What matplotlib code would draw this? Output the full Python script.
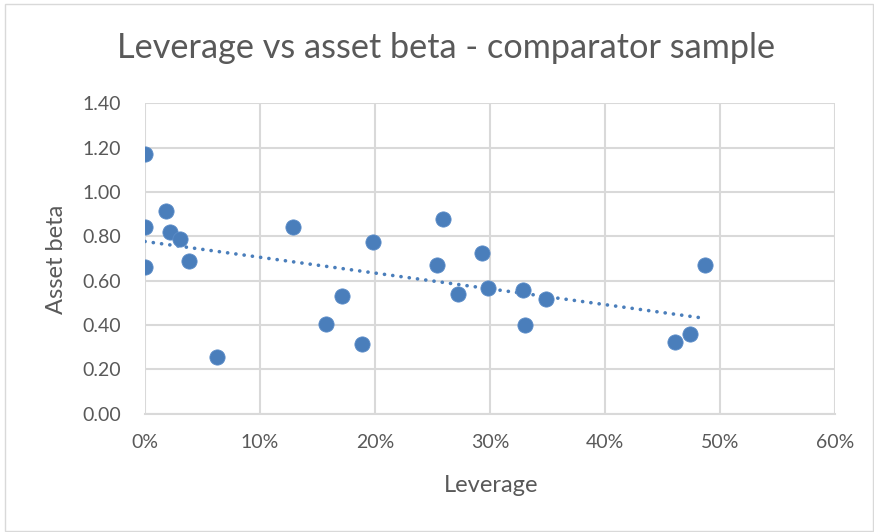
import numpy as np
import matplotlib
matplotlib.use('Agg')
import matplotlib.pyplot as plt
from matplotlib.ticker import FuncFormatter
from matplotlib.patches import Rectangle

# Data (leverage as fraction, asset beta)
leverage = [0.000, 0.000, 0.000, 0.018, 0.022, 0.030, 0.038, 0.063,
            0.129, 0.157, 0.171, 0.189, 0.198, 0.254, 0.259, 0.272, 0.293,
            0.298, 0.329, 0.330, 0.349, 0.461, 0.474, 0.487]
asset_beta = [1.17, 0.84, 0.66, 0.915, 0.82, 0.79, 0.69, 0.254,
              0.84, 0.403, 0.532, 0.313, 0.773, 0.669, 0.88, 0.539, 0.725,
              0.568, 0.558, 0.399, 0.516, 0.325, 0.358, 0.672]
x_ticks = [0, 0.1, 0.2, 0.3, 0.4, 0.5, 0.6]
y_ticks = [0, 0.2, 0.4, 0.6, 0.8, 1.0, 1.2, 1.4]

blue = '#4A7EBB'
grey_txt = '#595959'
grid_col = '#D9D9D9'
W, H = 874, 532

plt.rcParams['font.family'] = ['Lato', 'DejaVu Sans']
plt.rcParams['lines.scale_dashes'] = False

fig = plt.figure(figsize=(W / 100, H / 100), dpi=100)
ax = fig.add_axes([145 / W, 1 - 413.6 / H, 690 / W, 310.2 / H])

ax.scatter(leverage, asset_beta, s=120, color=blue, edgecolor='#5B8CC8',
           linewidth=0.6, zorder=3)

# linear trendline
x = np.array(leverage)
y = np.array(asset_beta)
m, b = np.polyfit(x, y, 1)
xs = np.array([x.min(), x.max()])
ax.plot(xs, m * xs + b, color=blue, lw=2.6, linestyle=(0, (0.1, 5.9)),
        dash_capstyle='round', zorder=2)

ax.set_xlim(0, 0.6)
ax.set_ylim(0, 1.4)
ax.set_xticks(x_ticks)
ax.set_yticks(y_ticks)
ax.xaxis.set_major_formatter(FuncFormatter(lambda v, p: f'{v * 100:.0f}%'))
ax.yaxis.set_major_formatter(FuncFormatter(lambda v, p: f'{v:.2f}'))
ax.grid(True, color=grid_col, lw=1.5)
ax.set_axisbelow(True)
for s in ['top', 'right', 'left']:
    ax.spines[s].set_visible(False)
ax.spines['bottom'].set_color(grid_col)
ax.spines['bottom'].set_linewidth(1.5)
ax.tick_params(axis='both', length=0, labelsize=14, labelcolor=grey_txt)
ax.tick_params(axis='x', pad=15)
ax.tick_params(axis='y', pad=17)

fig.text(446 / W, 1 - 48 / H, 'Leverage vs asset beta - comparator sample',
         ha='center', va='center', fontsize=24.7, color=grey_txt)
fig.text(491 / W, 1 - 485 / H, 'Leverage', ha='center', va='center',
         fontsize=17, color=grey_txt)
fig.text(56.7 / W, 1 - 259 / H, 'Asset beta', ha='center', va='center',
         rotation=90, fontsize=17, color=grey_txt)

# chart border
fig.patches.append(Rectangle((5 / W, 1 - 531 / H), 868 / W, 527 / H,
                             transform=fig.transFigure, fill=False,
                             edgecolor=grid_col, lw=1))

fig.savefig('out.png', dpi=100)
